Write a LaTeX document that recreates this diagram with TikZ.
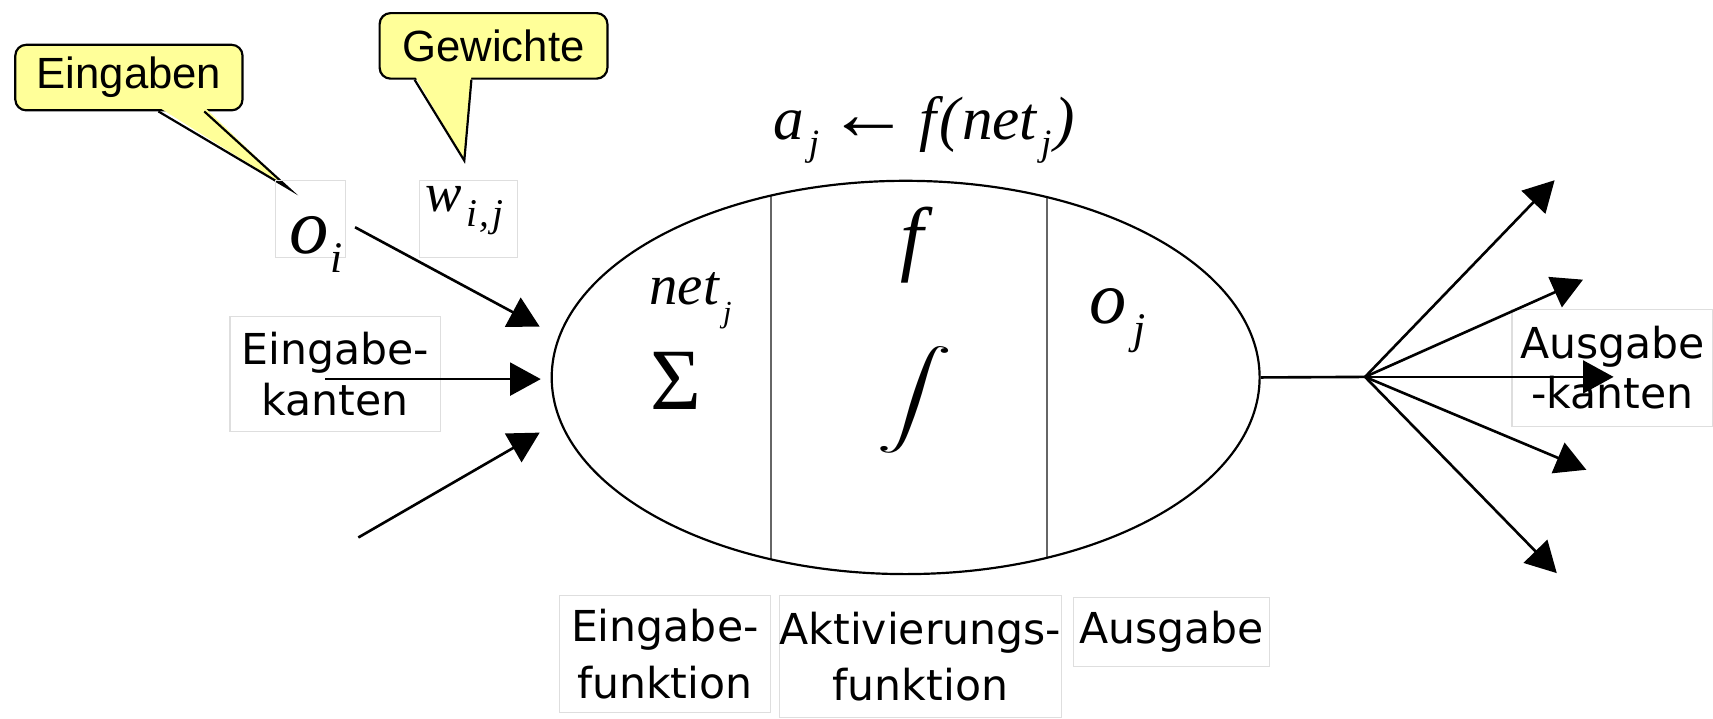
\documentclass[tikz,border=0pt]{standalone}
\usepackage{fontspec}
\usepackage{graphicx}
\usetikzlibrary{shapes.geometric,arrows.meta,calc}
\newfontfamily\tms{Liberation Serif}
\newfontfamily\arl{Liberation Sans}
\newfontfamily\dvs{DejaVu Sans}
\definecolor{callfill}{RGB}{255,255,153}
\definecolor{faint}{RGB}{222,222,222}
\tikzset{
  callbox/.style={draw=black, line width=1pt, fill=callfill, rounded corners=5pt, inner sep=0pt,
    font=\arl\fontsize{20}{24}\selectfont},
  tailfill/.style={fill=callfill},
  tailedge/.style={draw=black, line width=1pt, line join=miter},
  lbl/.style={draw=faint, line width=0.5pt, inner sep=0pt, align=center,
    font=\dvs\fontsize{19.5}{23}\selectfont},
  faintbox/.style={draw=faint, line width=0.5pt},
  mth/.style={inner sep=0pt, font=\tms\itshape},
  inedge/.style={line width=1.2pt, -{Triangle[length=14pt,width=15pt]}},
  plainedge/.style={line width=1.2pt},
  divider/.style={line width=0.8pt, black!60},
  cell/.style={draw, ellipse, line width=1pt, inner sep=0pt},
}
\begin{document}
\begin{tikzpicture}[x=0.5pt,y=-0.5pt]
\useasboundingbox (0,0) rectangle (1568,658);

% callouts
\node[callbox, minimum width=104pt, minimum height=30pt] (eing) at (118,71) {Eingaben};
\coordinate (tipE) at (265,173);
\fill[tailfill] ($(eing.south west)+(132,-4)$) -- (tipE) -- ($(eing.south west)+(174,-4)$) -- cycle;
\draw[tailedge] ($(eing.south west)+(132,0)$) -- (tipE) -- ($(eing.south west)+(174,0)$);

\node[callbox, minimum width=104.25pt, minimum height=30pt] (gew) at (451.75,42) {Gewichte};
\coordinate (tipG) at (425,147);
\fill[tailfill] ($(gew.south west)+(33,-4)$) -- (tipG) -- ($(gew.south west)+(85,-4)$) -- cycle;
\draw[tailedge] ($(gew.south west)+(33,0)$) -- (tipG) -- ($(gew.south west)+(85,0)$);

% math labels on the left
\draw[faintbox] (252,165) rectangle (316,236);
\node[mth, anchor=base west] (oi) at (265,232)
  {\fontsize{36}{36}\selectfont o\kern0.5pt\raisebox{-8.5pt}{\fontsize{20}{20}\selectfont i}};
\draw[faintbox] (384,165) rectangle (474,236);
\node[mth, anchor=base west] (wij) at (389,194)
  {\fontsize{25}{25}\selectfont w\kern2pt\raisebox{-6.5pt}{\fontsize{18}{18}\selectfont i\kern1pt,\kern1.5pt j}};

% formula above
\node[mth, anchor=base west] (act) at (708,128)
  {\fontsize{28}{28}\selectfont a\kern2pt\raisebox{-7pt}{\fontsize{17}{17}\selectfont j}\kern4pt{\upshape\scalebox{1.35}[1.25]{←}}\kern4pt f\kern1.5pt(\kern1pt net\kern2pt\raisebox{-7pt}{\fontsize{17}{17}\selectfont j}\kern1.5pt)};

% neuron body
\coordinate (nc) at (829,345.5);
\begin{scope}
  \clip (nc) ellipse [x radius=162pt, y radius=90pt];
  \draw[divider] (705.5,100) -- (705.5,600);
  \draw[divider] (958.5,100) -- (958.5,600);
\end{scope}
\node[cell, minimum width=324pt, minimum height=180pt] (neuron) at (nc) {};

\node[mth, anchor=base west] (net) at (594,279)
  {\fontsize{26}{26}\selectfont net\kern2pt\raisebox{-8pt}{\fontsize{14}{14}\selectfont j}};
\node[inner sep=0pt, anchor=base, font=\tms\fontsize{40}{40}\selectfont] (sigma) at (619,375) {Σ};
\node[mth, anchor=base] (ff) at (835,243) {\fontsize{38}{38}\selectfont f};
\node[inner sep=0pt] (integ) at (837,366) {\scalebox{3.5}[2.2]{$\displaystyle\int$}};
\node[mth, anchor=base west] (oj) at (997,296)
  {\fontsize{34}{34}\selectfont o\kern3pt\raisebox{-9pt}{\fontsize{20}{20}\selectfont j}};

% text labels
\node[lbl, minimum width=96.25pt, minimum height=52.5pt] (ek) at (306.75,342.5) {Eingabe-\\kanten};
\node[lbl, minimum width=92pt, minimum height=53.5pt] (ak) at (1476,336.5) {Ausgabe\\-kanten};
\node[lbl, font=\dvs\fontsize{19.5}{26}\selectfont, minimum width=96.5pt, minimum height=53.5pt] (ef) at (608.5,598.5) {Eingabe-\\funktion};
\node[lbl, font=\dvs\fontsize{19.5}{26}\selectfont, minimum width=128.5pt, minimum height=56pt] (af) at (842.5,601) {Aktivierungs-\\funktion};
\node[lbl, minimum width=89.5pt, minimum height=31.5pt] (ag) at (1072.5,578.5) {Ausgabe};

% input edges
\coordinate (i1s) at (325,208);  \coordinate (i1e) at (494,299);
\coordinate (i2s) at (297.5,347); \coordinate (i2e) at (495,347);
\coordinate (i3s) at (328,492);  \coordinate (i3e) at (494,396);
\draw[inedge] (i1s) -- (i1e);
\draw[inedge] (i2s) -- (i2e);
\draw[inedge] (i3s) -- (i3e);

% output edges
\coordinate (fan) at (1249.5,345);
\coordinate (o1) at (1423,165);
\coordinate (o2) at (1449,256);
\coordinate (o3) at (1477,345);
\coordinate (o4) at (1452,430);
\coordinate (o5) at (1425,524.6);
\draw[plainedge] (neuron.east) -- (fan);
\foreach \t in {o1,o2,o3,o4,o5} \draw[inedge] (fan) -- (\t);
\end{tikzpicture}
\end{document}
